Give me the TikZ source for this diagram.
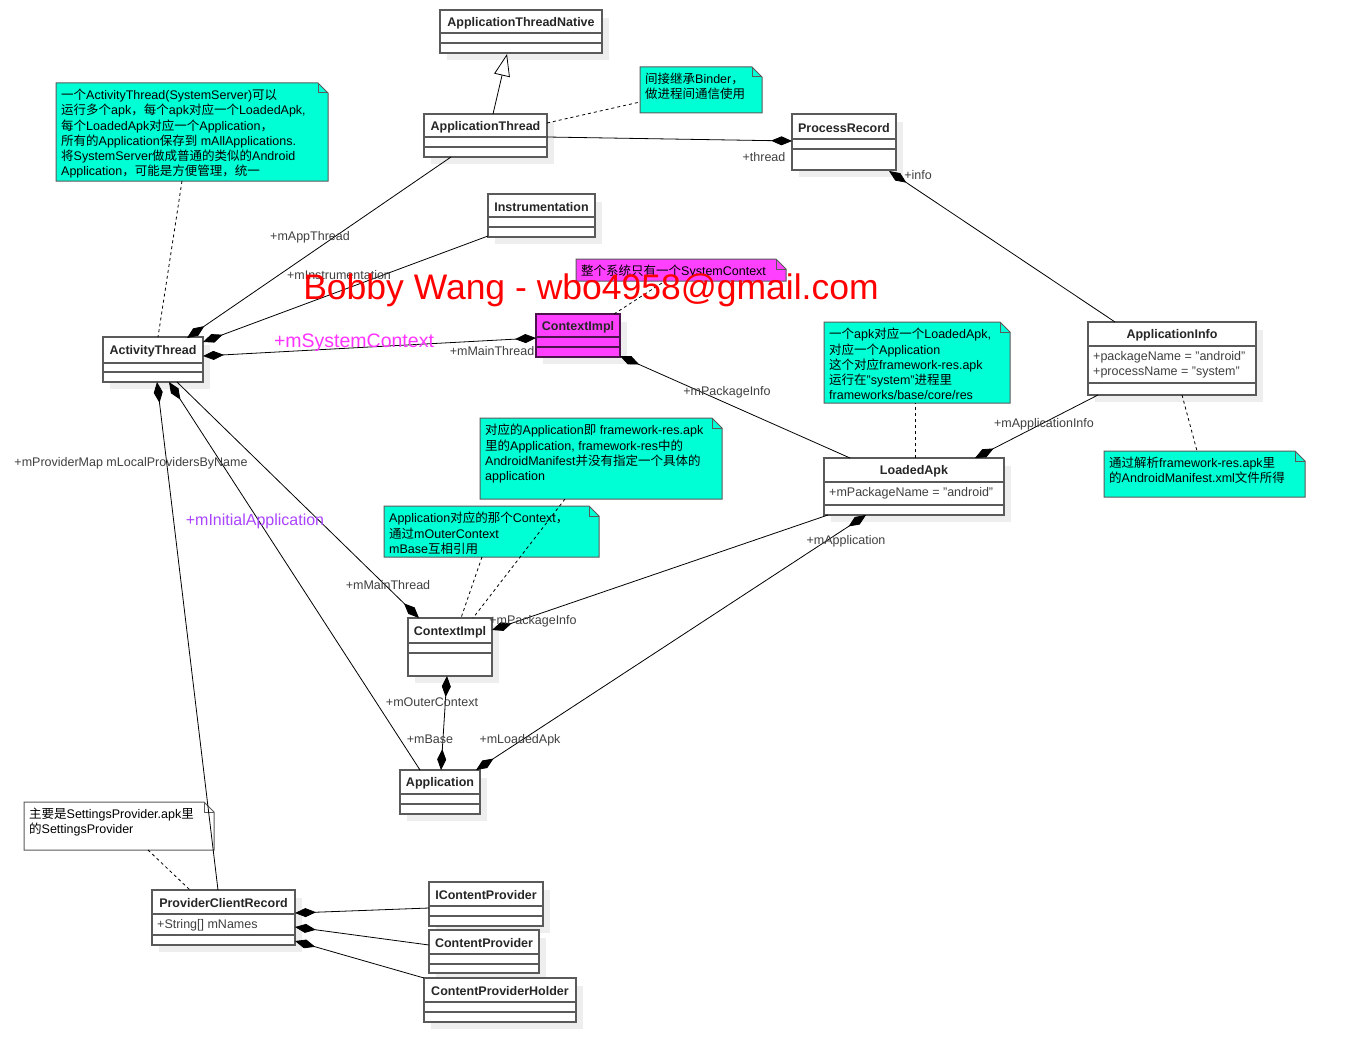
\documentclass[tikz,border=0pt]{standalone}
\usepackage{fontspec}
\setmainfont{Liberation Sans}
\newfontfamily\cjk{Noto Sans CJK SC}
\usetikzlibrary{arrows.meta,calc}
\definecolor{notec}{RGB}{0,255,213}
\definecolor{magc}{RGB}{255,64,255}
\definecolor{magtext}{RGB}{255,51,255}
\definecolor{purtext}{RGB}{170,68,255}
\definecolor{boxc}{RGB}{90,90,90}
\definecolor{shadowc}{RGB}{238,238,238}
\definecolor{labc}{RGB}{64,64,64}
\newcommand\zh[1]{{\cjk #1}}
\tikzset{
  clsbox/.style={draw=boxc, line width=1.3pt, fill=white, inner sep=0pt, outer sep=0pt},
  clsline/.style={draw=boxc, line width=1.3pt},
  clstitle/.style={font=\fontsize{12.5}{14}\selectfont\bfseries, text=black!85, inner sep=0pt},
  attrtext/.style={font=\fontsize{12.5}{15}\selectfont, text=labc, inner sep=0pt, align=left},
  notebox/.style={draw=boxc, line width=1pt},
  notetext/.style={font=\fontsize{12.5}{15.2}\selectfont, text=black, inner sep=0pt, align=left},
  lab/.style={font=\fontsize{12.5}{14}\selectfont, text=labc, inner sep=0pt},
  conn/.style={draw=black, line width=0.8pt},
  dconn/.style={draw=black, line width=0.8pt, dash pattern=on 3pt off 3pt},
  compE/.style={-{Diamond[length=21pt,width=9pt]}},
  compS/.style={{Diamond[length=21pt,width=9pt]}-},
  compB/.style={{Diamond[length=21pt,width=9pt]}-{Diamond[length=21pt,width=9pt]}},
  gen/.style={-{Triangle[open,length=22pt,width=16pt,fill=white]}},
}
% #1 name, #2 x, #3 y, #4 w, #5 h, #6 l1, #7 l2, #8 title, #9 attrs
\newcommand\umlclass[9]{%
  \fill[shadowc] (#2+7,#3+8) rectangle (#2+#4+7,#3+#5+7);
  \node[clsbox, minimum width=#4pt, minimum height=#5pt, anchor=north west] (#1) at (#2,#3) {};
  \node[clstitle] at (#2+#4/2,#3+#6/2+1.5) {#8};
  \draw[clsline] (#2,#3+#6) -- (#2+#4,#3+#6);
  \draw[clsline] (#2,#3+#7) -- (#2+#4,#3+#7);
  \node[attrtext, anchor=north west] at (#2+5,#3+#6+5.5) {#9};
}
% [#1 fill] #2 name, #3 x, #4 y, #5 w, #6 h, #7 text
\newcommand\umlnote[7][notec]{%
  \node[minimum width=#5pt, minimum height=#6pt, anchor=north west, inner sep=0pt, outer sep=0pt] (#2) at (#3,#4) {};
  \filldraw[notebox, fill=#1] (#3,#4) -- (#3+#5-10,#4) -- (#3+#5,#4+10) -- (#3+#5,#4+#6) -- (#3,#4+#6) -- cycle;
  \draw[notebox] (#3+#5-10,#4) -- (#3+#5-10,#4+10) -- (#3+#5,#4+10);
  \node[notetext, anchor=north west] at (#3+5,#4+6) {#7};
}
\begin{document}
\begin{tikzpicture}[x=1pt,y=-1pt]
\useasboundingbox[fill=white] (0,0) rectangle (1346,1062);

% ---------- classes ----------
\umlclass{atn}{440}{10}{162}{43}{23}{33}{ApplicationThreadNative}{}
\umlclass{at}{424}{114}{123}{43}{23}{33}{ApplicationThread}{}
\umlclass{pr}{792}{114}{104}{56}{25}{35}{ProcessRecord}{}
\umlclass{ins}{488}{194}{107}{43}{23}{33}{Instrumentation}{}
\umlclass{actt}{103}{337}{100}{45}{26}{35}{ActivityThread}{}
\umlclass{ai}{1088}{322}{168}{73}{24}{61}{ApplicationInfo}{+packageName = "android"\\+processName = "system"}
\umlclass{la}{824}{458}{180}{57}{24}{47}{LoadedApk}{+mPackageName = "android"}
\umlclass{ctwo}{408}{618}{84}{58}{25}{35}{ContextImpl}{}
\umlclass{app}{400}{770}{80}{44}{24}{34}{Application}{}
\umlclass{pcr}{152}{890}{143}{55}{24}{45}{ProviderClientRecord}{+String[] mNames}
\umlclass{icp}{429}{882}{114}{44}{24}{34}{IContentProvider}{}
\umlclass{cp}{429}{930}{110}{43}{24}{34}{ContentProvider}{}
\umlclass{cph}{424}{978}{152}{44}{24}{34}{ContentProviderHolder}{}
% magenta ContextImpl
\fill[shadowc] (543,322) rectangle (627,364);
\node[clsbox, draw=black!70!magc, fill=magc, minimum width=84pt, minimum height=43pt, anchor=north west] (cone) at (536,314) {};
\node[clstitle] at (578,327.5) {ContextImpl};
\draw[clsline, draw=black!70!magc] (536,337) -- (620,337);
\draw[clsline, draw=black!70!magc] (536,347) -- (620,347);

% ---------- notes ----------
\umlnote{ntl}{56}{83}{272}{98}{\zh{一个}ActivityThread(SystemServer)\zh{可以}\\
\zh{运行多个}apk\zh{，每个}apk\zh{对应一个}LoadedApk,\\
\zh{每个}LoadedApk\zh{对应一个}Application\zh{，}\\
\zh{所有的}Application\zh{保存到} mAllApplications.\\
\zh{将}SystemServer\zh{做成普通的类似的}Android\\
Application\zh{，可能是方便管理，统一}}
\umlnote{nbinder}{640}{67}{122}{46}{\zh{间接继承}Binder\zh{，}\\\zh{做进程间通信使用}}
\umlnote[magc]{nsys}{576}{259}{210}{22}{\zh{整个系统只有一个}SystemContext}
\umlnote{nla}{824}{322}{186}{81}{\zh{一个}apk\zh{对应一个}LoadedApk,\\
\zh{对应一个}Application\\
\zh{这个对应}framework-res.apk\\
\zh{运行在}"system"\zh{进程里}\\
frameworks/base/core/res}
\umlnote{nparse}{1104}{451}{201}{46}{\zh{通过解析}framework-res.apk\zh{里}\\
\zh{的}AndroidManifest.xml\zh{文件所得}}
\umlnote{napp}{480}{418}{242}{81}{\zh{对应的}Application\zh{即} framework-res.apk\\
\zh{里的}Application, framework-res\zh{中的}\\
AndroidManifest\zh{并没有指定一个具体的}\\
application}
\umlnote{nctx}{384}{506}{215}{51}{Application\zh{对应的那个}Context\zh{，}\\
\zh{通过}mOuterContext\\
mBase\zh{互相引用}}
\umlnote[white]{nsp}{24}{802}{190}{48}{\zh{主要是}SettingsProvider.apk\zh{里}\\
\zh{的}SettingsProvider}

% ---------- connectors ----------
\draw[conn, gen] ($(at.north west)+(69,0)$) -- ($(atn.north west)+(67,44)$);
\draw[dconn] ($(at.north west)+(123,9)$) -- ($(nbinder.north west)+(0,35)$);
\draw[conn, compE] ($(at.north west)+(123,23)$) -- ($(pr.north west)+(0,27)$);
\draw[conn, compS] ($(pr.north west)+(97,57)$) -- ($(ai.north west)+(27,0)$);
\draw[conn, compE] ($(at.north west)+(27,43)$) -- ($(actt.north west)+(84,1)$);
\draw[conn, compE] ($(ins.north west)+(0,42)$) -- ($(actt.north west)+(100,5)$);
\draw[conn, compB] ($(actt.north west)+(100,19)$) -- ($(cone.north west)+(0,24)$);
\draw[dconn] ($(cone.north west)+(78,0)$) -- ($(nsys.north west)+(89,22)$);
\draw[conn, compS] ($(cone.north west)+(84,42)$) -- ($(la.north west)+(26,0)$);
\draw[dconn] ($(la.north west)+(91,0)$) -- ($(nla.north west)+(91,81)$);
\draw[conn, compE] ($(ai.north west)+(10,73)$) -- ($(la.north west)+(151,0)$);
\draw[dconn] ($(ai.north west)+(94,73)$) -- ($(nparse.north west)+(93,0)$);
\draw[dconn] ($(ntl.north west)+(126,98)$) -- ($(actt.north west)+(55,0)$);
\draw[conn, compS] ($(actt.north west)+(54,45)$) -- ($(pcr.north west)+(66,0)$);
\draw[conn, compS] ($(actt.north west)+(66,45)$) -- ($(app.north west)+(20,0)$);
\draw[conn, compE] ($(actt.north west)+(74,45)$) -- ($(ctwo.north west)+(11,0)$);
\draw[conn, compE] ($(la.north west)+(4,57)$) -- ($(ctwo.north west)+(84,12)$);
\draw[conn, compB] ($(la.north west)+(42,57)$) -- ($(app.north west)+(76,0)$);
\draw[conn, compB] ($(ctwo.north west)+(39,58)$) -- ($(app.north west)+(41,0)$);
\draw[dconn] ($(napp.north west)+(85,81)$) -- ($(ctwo.north west)+(65,0)$);
\draw[dconn] ($(nctx.north west)+(98,51)$) -- ($(ctwo.north west)+(53,0)$);
\draw[dconn] ($(nsp.north west)+(124,48)$) -- ($(pcr.north west)+(38,0)$);
\draw[conn, compS] ($(pcr.north west)+(143,23)$) -- ($(icp.north west)+(0,26)$);
\draw[conn, compS] ($(pcr.north west)+(143,37)$) -- ($(cp.north west)+(0,15)$);
\draw[conn, compS] ($(pcr.north west)+(143,51)$) -- ($(cph.north west)+(0,0)$);

% ---------- labels ----------
\node[lab] (l1) at (764,157) {+thread};
\node[lab] (l2) at (918,175) {+info};
\node[lab] (l3) at (310,237) {+mAppThread};
\node[lab] (l4) at (339,275) {+mInstrumentation};
\node[lab] (l5) at (492,351) {+mMainThread};
\node[lab] (l6) at (727,392) {+mPackageInfo};
\node[lab] (l7) at (1044,424) {+mApplicationInfo};
\node[lab] (l8) at (131,463) {+mProviderMap mLocalProvidersByName};
\node[lab] (l9) at (846,541) {+mApplication};
\node[lab] (l10) at (388,585) {+mMainThread};
\node[lab] (l11) at (533,621) {+mPackageInfo};
\node[lab] (l12) at (432,702) {+mOuterContext};
\node[lab] (l13) at (430,739) {+mBase};
\node[lab] (l14) at (520,740) {+mLoadedApk};
\node[inner sep=0pt, text=magtext, font=\fontsize{19.5}{22}\selectfont] (lsys) at (354,343) {+mSystemContext};
\node[inner sep=0pt, text=purtext, font=\fontsize{16}{18}\selectfont] (linit) at (255,521) {+mInitialApplication};
\node[inner sep=0pt, text=red, font=\fontsize{35.5}{40}\selectfont] (wm) at (591,290) {Bobby Wang - wbo4958@gmail.com};
\end{tikzpicture}
\end{document}
